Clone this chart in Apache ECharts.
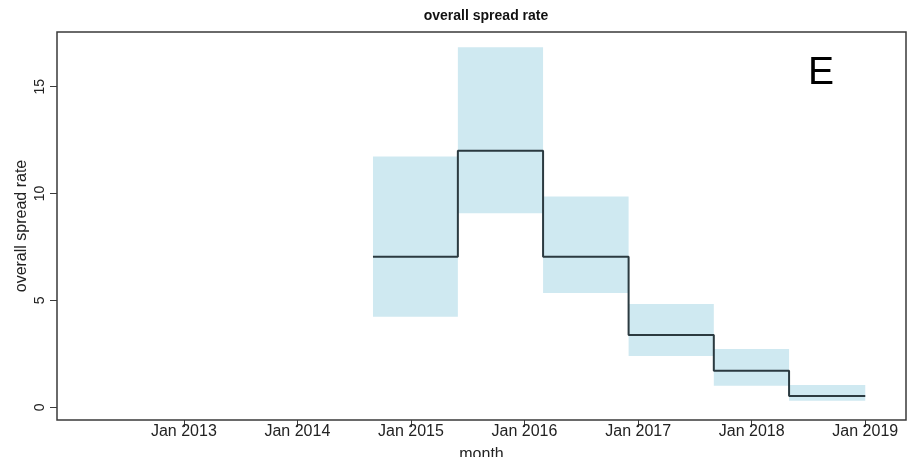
<!DOCTYPE html>
<html>
<head>
<meta charset="utf-8">
<script src="https://cdn.jsdelivr.net/npm/echarts@6/dist/echarts.min.js"></script>
<style>
  html, body { margin: 0; padding: 0; background: #ffffff; }
  #chart { width: 913px; height: 457px; }
</style>
</head>
<body>
<div id="chart"></div>
<script>
// Estimation periods (start / end month) for the overall spread rate
var periodStart = ['2014-09-01', '2015-06-01', '2016-03-01', '2016-12-01', '2017-09-01', '2018-05-01'];
var periodEnd   = ['2015-06-01', '2016-03-01', '2016-12-01', '2017-09-01', '2018-05-01', '2019-01-01'];
// Point estimate and interval bounds for each period
var rate  = [7.05, 12.0, 7.05, 3.38, 1.71, 0.53];
var lower = [4.24, 9.08, 5.35, 2.40, 1.01, 0.31];
var upper = [11.73, 16.85, 9.86, 4.83, 2.73, 1.04];
// Axis ticks
var xTickYears = [2013, 2014, 2015, 2016, 2017, 2018, 2019];
var yTicks = [0, 5, 10, 15];

function toMs(s) {
  var p = s.split('-');
  return Date.UTC(+p[0], +p[1] - 1, +p[2]);
}

var xTicks = xTickYears.map(function (y) { return Date.UTC(y, 0, 1); });
var xMin = toMs('2011-11-20');
var xMax = toMs('2019-05-12');

// interval boxes: [start, end, lower, upper]
var bandData = periodStart.map(function (s, i) {
  return [toMs(s), toMs(periodEnd[i]), lower[i], upper[i]];
});

// step line: one point per period start, plus the final period end
var stepData = periodStart.map(function (s, i) { return [toMs(s), rate[i]]; });
stepData.push([toMs(periodEnd[periodEnd.length - 1]), rate[rate.length - 1]]);

var textColor = '#222222';
var sans = '"Liberation Sans", Arial, sans-serif';

var chart = echarts.init(document.getElementById('chart'), null, { renderer: 'canvas' });

chart.setOption({
  animation: false,
  backgroundColor: '#ffffff',
  title: {
    text: 'overall spread rate',
    left: 481,
    top: 4,
    textAlign: 'center',
    textStyle: { fontFamily: sans, fontWeight: 'bold', fontSize: 14, color: '#111111' }
  },
  grid: {
    left: 57, right: 7, top: 32, bottom: 37,
    outerBoundsMode: 'none',
    containLabel: false,
    show: true, borderColor: '#3a3a3a', borderWidth: 1.5, backgroundColor: 'transparent'
  },
  xAxis: {
    type: 'value',
    min: xMin,
    max: xMax,
    name: 'month',
    nameLocation: 'middle',
    nameGap: 27,
    nameMoveOverlap: false,
    nameTextStyle: { fontFamily: sans, fontSize: 16, color: textColor },
    axisLine: { show: false, onZero: false },
    splitLine: { show: false },
    axisTick: {
      show: true, length: 7, inside: false,
      customValues: xTicks,
      lineStyle: { color: '#3a3a3a', width: 1 }
    },
    axisLabel: {
      customValues: xTicks,
      margin: 4,
      fontFamily: sans, fontSize: 16, color: textColor,
      formatter: function (v) { return 'Jan ' + new Date(v).getUTCFullYear(); }
    }
  },
  yAxis: {
    type: 'value',
    min: -0.594,
    max: 17.56,
    name: 'overall spread rate',
    nameLocation: 'middle',
    nameGap: 27,
    nameMoveOverlap: false,
    nameTextStyle: { fontFamily: sans, fontSize: 16, color: textColor },
    axisLine: { show: false, onZero: false },
    splitLine: { show: false },
    axisTick: {
      show: true, length: 7,
      customValues: yTicks,
      lineStyle: { color: '#3a3a3a', width: 1 }
    },
    axisLabel: {
      customValues: yTicks,
      rotate: 90,
      margin: 10,
      fontFamily: sans, fontSize: 14, color: textColor
    }
  },
  series: [
    {
      type: 'custom',
      name: 'interval',
      data: bandData,
      encode: { x: [0, 1], y: [2, 3] },
      renderItem: function (params, api) {
        var p0 = api.coord([api.value(0), api.value(3)]);
        var p1 = api.coord([api.value(1), api.value(2)]);
        return {
          type: 'rect',
          shape: { x: p0[0], y: p0[1], width: p1[0] - p0[0], height: p1[1] - p0[1] },
          style: { fill: '#cfe9f1' }
        };
      },
      z: 1
    },
    {
      type: 'line',
      name: 'rate',
      data: stepData,
      step: 'end',
      symbol: 'none',
      lineStyle: { color: '#2b3a40', width: 2 },
      z: 3
    }
  ],
  graphic: [
    {
      type: 'text',
      left: 808,
      top: 54,
      style: { text: 'E', fontFamily: sans, fontSize: 39, fill: '#000000' }
    }
  ]
});
</script>
</body>
</html>
